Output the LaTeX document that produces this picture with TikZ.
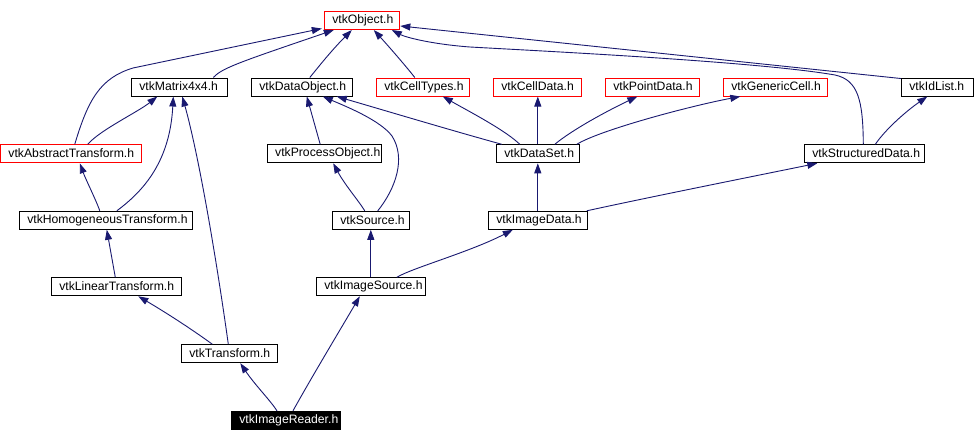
\documentclass[tikz,border=0pt]{standalone}
\usepackage{fontspec}
\setmainfont{Liberation Sans}
\usetikzlibrary{arrows.meta,calc}
\definecolor{edgeblue}{RGB}{25,25,112}
\newcommand{\lbl}[2]{\hbox to #1pt{\hskip 8pt\raisebox{1pt}{#2}\hss}}
\begin{document}
\begin{tikzpicture}[x=1pt,y=-1pt,
  box/.style={draw=black, line width=1pt, inner sep=0pt, minimum height=18pt,
    font=\fontsize{12.2}{14}\selectfont},
  redbox/.style={box, draw=red},
  dep/.style={draw=edgeblue, line width=0.9pt, -{Triangle[length=10pt,width=7pt]}}]
\useasboundingbox[fill=white] (0,0) rectangle (976,442);
% nodes
\node[redbox, minimum width=75pt] (obj) at (361.8,20.5) {\lbl{75}{vtkObject.h}};
\node[box, minimum width=96pt] (mat) at (179.3,87) {\lbl{96}{vtkMatrix4x4.h}};
\node[box, minimum width=101pt] (dobj) at (301.8,87) {\lbl{101}{vtkDataObject.h}};
\node[redbox, minimum width=93pt] (ctypes) at (422.8,87) {\lbl{93}{vtkCellTypes.h}};
\node[redbox, minimum width=88pt] (cdata) at (537.3,87) {\lbl{88}{vtkCellData.h}};
\node[redbox, minimum width=94pt] (pdata) at (652.3,87) {\lbl{94}{vtkPointData.h}};
\node[redbox, minimum width=104pt] (gcell) at (775.3,87) {\lbl{104}{vtkGenericCell.h}};
\node[box, minimum width=72pt] (idl) at (937.3,87) {\lbl{72}{vtkIdList.h}};
\node[redbox, minimum width=140.5pt] (abs) at (70.75,153.8) {\lbl{140.5}{vtkAbstractTransform.h}};
\node[box, minimum width=114pt] (pobj) at (324.2,153.8) {\lbl{114}{vtkProcessObject.h}};
\node[box, minimum width=83pt] (dset) at (537.8,153.8) {\lbl{83}{vtkDataSet.h}};
\node[box, minimum width=120pt] (sdata) at (864.3,153.8) {\lbl{120}{vtkStructuredData.h}};
\node[box, minimum width=173pt] (homo) at (105.8,220.3) {\lbl{173}{vtkHomogeneousTransform.h}};
\node[box, minimum width=77pt] (src) at (370.8,220.3) {\lbl{77}{vtkSource.h}};
\node[box, minimum width=99pt] (idata) at (537.8,220.3) {\lbl{99}{vtkImageData.h}};
\node[box, minimum width=130pt] (lin) at (116.3,286.8) {\lbl{130}{vtkLinearTransform.h}};
\node[box, minimum width=109pt] (isrc) at (370.8,286.8) {\lbl{109}{vtkImageSource.h}};
\node[box, minimum width=96pt] (tr) at (229.3,353.7) {\lbl{96}{vtkTransform.h}};
\node[box, fill=black, text=white, minimum width=109.4pt] (rdr) at (286,420.3) {\lbl{109.4}{vtkImageReader.h}};
% edges
\draw[dep] ($(abs.north)+(4,0)$) .. controls (88,100) and (100,78) .. (133,68) -- ($(obj.south west)+(-2,-1.5)$);
\draw[dep] ($(mat.north)+(34,0)$) .. controls (222,68) and (240,62) .. ($(obj.south)+(-28,0)$);
\draw[dep] ($(dobj.north)+(8,0)$) .. controls (316,70) and (330,52) .. ($(obj.south)+(-10,0)$);
\draw[dep] ($(ctypes.north)+(-8,0)$) .. controls (409,70) and (392,50) .. ($(obj.south)+(12,0)$);
\draw[dep] ($(sdata.north)+(-1,0)$) .. controls (863,100) and (858,80) .. (835,75)
   .. controls (760,62) and (560,52) .. (470,47) .. controls (430,44) and (405,37) .. ($(obj.south)+(30,0)$);
\draw[dep] ($(idl.north west)+(0,1)$) -- ($(obj.south east)+(0.5,-4)$);
\draw[dep] ($(abs.north)+(17,0)$) .. controls (100,130) and (138,112) .. ($(mat.south)+(-22,0)$);
\draw[dep] ($(homo.north)+(11,0)$) .. controls (145,190) and (170,160) .. ($(mat.south)+(-6,0)$);
\draw[dep] ($(tr.north)+(-1,0)$) .. controls (218,270) and (200,160) .. ($(mat.south)+(3,0)$);
\draw[dep] ($(homo.north)+(-6,0)$) .. controls (96,200) and (86,180) .. ($(abs.south)+(9,0)$);
\draw[dep] ($(lin.north)+(-1,0)$) -- ($(homo.south)+(1,0)$);
\draw[dep] ($(tr.north)+(-17,0)$) .. controls (190,328) and (165,312) .. ($(lin.south)+(22,0)$);
\draw[dep] ($(rdr.north)+(-9,0)$) .. controls (270,400) and (255,385) .. ($(tr.south)+(11,0)$);
\draw[dep] ($(rdr.north)+(7,0)$) .. controls (310,380) and (340,330) .. ($(isrc.south)+(-11,0)$);
\draw[dep] ($(pobj.north)+(-4,0)$) -- ($(dobj.south)+(5,0)$);
\draw[dep] ($(src.north)+(7,0)$) .. controls (396,188) and (406,158) .. (392,136)
   .. controls (380,120) and (345,106) .. ($(dobj.south)+(21,0)$);
\draw[dep] ($(src.north)+(-6,0)$) .. controls (358,200) and (345,185) .. ($(pobj.south)+(9,0)$);
\draw[dep] (isrc.north) -- (src.south);
\draw[dep] ($(isrc.north)+(26,0)$) .. controls (412,268) and (470,252) .. ($(idata.south)+(-25,0)$);
\draw[dep] (idata.north) -- (dset.south);
\draw[dep] ($(idata.north)+(49,0)$) .. controls (650,197) and (750,177) .. ($(sdata.south)+(-47,0)$);
\draw[dep] ($(dset.north)+(-36,0)$) .. controls (450,130) and (390,112) .. ($(dobj.south)+(35,0)$);
\draw[dep] ($(dset.north)+(-18,0)$) .. controls (505,130) and (470,112) .. ($(ctypes.south)+(20,0)$);
\draw[dep] (dset.north) -- (dset.north |- cdata.south);
\draw[dep] ($(dset.north)+(17,0)$) .. controls (572,130) and (605,112) .. ($(pdata.south)+(-15,0)$);
\draw[dep] ($(dset.north)+(39,0)$) .. controls (600,130) and (690,106) .. ($(gcell.south)+(-35,0)$);
\draw[dep] ($(sdata.north)+(11,0)$) .. controls (885,130) and (905,112) .. ($(idl.south)+(-10,0)$);
\end{tikzpicture}
\end{document}
